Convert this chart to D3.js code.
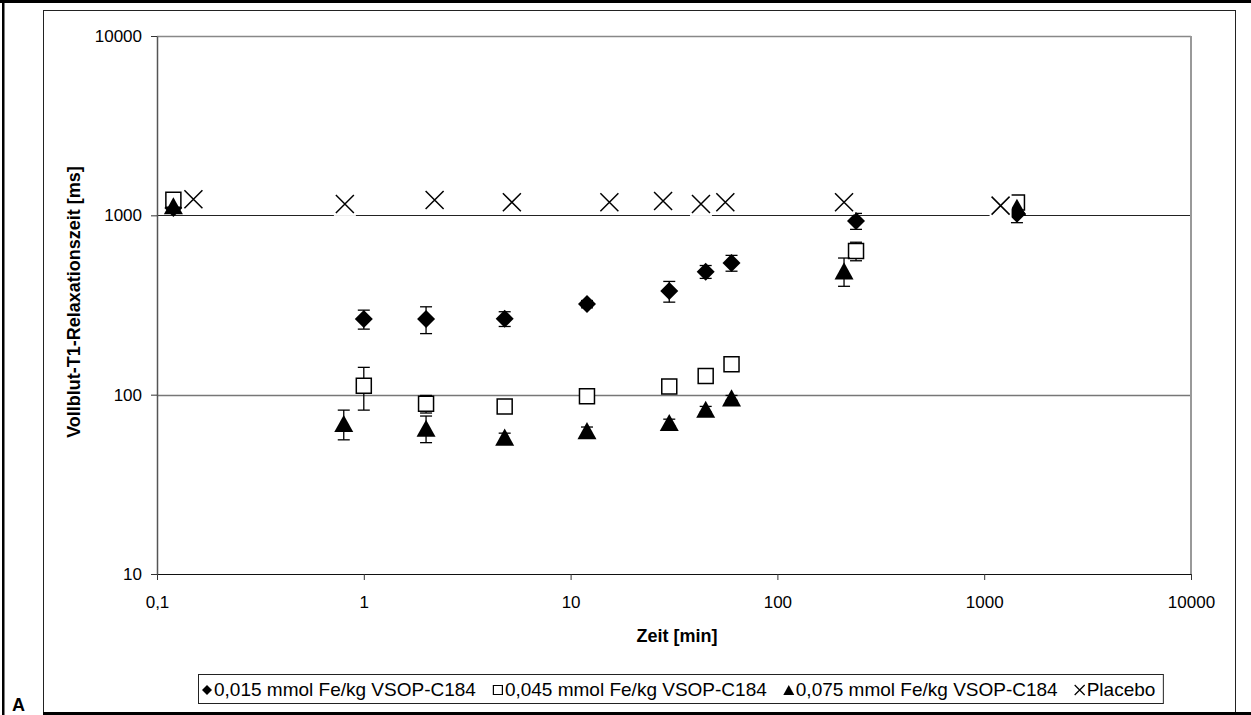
<!DOCTYPE html>
<html>
<head>
<meta charset="utf-8">
<script src="https://cdn.jsdelivr.net/npm/d3@7"></script>
<style>
  body { margin: 0; background: #fff; }
  svg { display: block; font-family: Arial, "Liberation Sans", sans-serif; }
</style>
</head>
<body>
<div id="wrapper"></div>
<script>
// --- data ---
const xTicks = [0.1, 1, 10, 100, 1000, 10000]
const yTicks = [10, 100, 1000, 10000]

const lowDoseTime = [0.12, 1, 2, 4.8, 12, 30, 45, 60, 240, 1440]
const lowDoseT1 = [1100, 264, 264, 265, 320, 378, 485, 543, 930, 1020]
const lowDoseErr = [70, 32, 45, 25, 15, 50, 40, 55, 95, 110]

const midDoseTime = [0.12, 1, 2, 4.8, 12, 30, 45, 60, 240, 1440]
const midDoseT1 = [1220, 112, 89, 86, 98, 111, 127, 148, 633, 1180]
const midDoseErr = [0, 30, 10, 0, 0, 0, 0, 5, 75, 0]

const highDoseTime = [0.12, 0.8, 2, 4.8, 12, 30, 45, 60, 210, 1440]
const highDoseT1 = [1130, 69, 65, 58, 63, 70, 83, 96, 490, 1110]
const highDoseErr = [0, 13, 11, 3, 3, 3, 3, 3, 88, 0]

const placeboTime = [0.15, 0.81, 2.2, 5.2, 15.4, 28, 42.7, 56, 210, 1200]
const placeboT1 = [1230, 1158, 1219, 1183, 1183, 1203, 1158, 1183, 1183, 1133]

const seriesNames = [
    "0,015 mmol Fe/kg VSOP-C184",
    "0,045 mmol Fe/kg VSOP-C184",
    "0,075 mmol Fe/kg VSOP-C184",
    "Placebo"
]

function drawChart() {
    const width = 1251
    const height = 715

    let dimensions = {
        width: width,
        height: height,
        margin: { top: 36, right: 60, bottom: 141, left: 157 }
    }
    dimensions.boundedWidth = dimensions.width - dimensions.margin.left - dimensions.margin.right
    dimensions.boundedHeight = dimensions.height - dimensions.margin.top - dimensions.margin.bottom

    const wrapper = d3.select("#wrapper")
        .append("svg")
        .attr("width", dimensions.width)
        .attr("height", dimensions.height)

    // page frame + chart frame
    wrapper.append("rect").attr("x", 0).attr("y", 0).attr("width", width).attr("height", 3).attr("fill", "#000")
    wrapper.append("rect").attr("x", 2).attr("y", 0).attr("width", 2.5).attr("height", height).attr("fill", "#000")
    wrapper.append("rect")
        .attr("x", 43.5).attr("y", 10.5)
        .attr("width", 1192).attr("height", 703)
        .attr("fill", "none").attr("stroke", "#222").attr("stroke-width", 1)
    wrapper.append("rect").attr("x", 43).attr("y", 712).attr("width", width - 43).attr("height", 3).attr("fill", "#000")

    wrapper.append("text")
        .attr("x", 12).attr("y", 711)
        .attr("font-weight", "bold")
        .attr("font-size", 18)
        .text("A")

    const bounds = wrapper.append("g")
        .attr("transform", `translate(${dimensions.margin.left},${dimensions.margin.top})`)

    const xScale = d3.scaleLog()
        .domain([0.1, 10000])
        .range([0, dimensions.boundedWidth])

    const yScale = d3.scaleLog()
        .domain([10, 10000])
        .range([dimensions.boundedHeight, 0])

    // gridlines at 100 / 1000 / 10000
    const gridStyle = { 100: ["#777", 1.5], 1000: ["#222", 1], 10000: ["#888", 1.5] }
    bounds.selectAll(".grid")
        .data(yTicks.filter(d => d > 10))
        .enter().append("line")
        .attr("x1", 0).attr("x2", dimensions.boundedWidth)
        .attr("y1", d => Math.round(yScale(d)) + 0.5)
        .attr("y2", d => Math.round(yScale(d)) + 0.5)
        .attr("stroke", d => gridStyle[d][0])
        .attr("stroke-width", d => gridStyle[d][1])

    bounds.append("line")
        .attr("x1", dimensions.boundedWidth).attr("x2", dimensions.boundedWidth)
        .attr("y1", 0).attr("y2", dimensions.boundedHeight)
        .attr("stroke", "#999").attr("stroke-width", 2)

    const fmt = d => String(d).replace(".", ",")

    const xAxis = bounds.append("g")
        .attr("transform", `translate(0,${dimensions.boundedHeight})`)
        .call(d3.axisBottom(xScale).tickValues(xTicks).tickFormat(fmt).tickSize(6).tickSizeOuter(0).tickPadding(16))
    xAxis.select(".domain").attr("stroke", "#111")
    xAxis.selectAll(".tick line").attr("stroke", "#333")
    xAxis.selectAll("text").attr("font-size", 17).attr("fill", "#000").attr("font-family", "Arial, 'Liberation Sans', sans-serif")

    const yAxis = bounds.append("g")
        .call(d3.axisLeft(yScale).tickValues(yTicks).tickFormat(fmt).tickSize(6).tickSizeOuter(0).tickPadding(9))
    yAxis.select(".domain").attr("stroke", "#555").attr("stroke-width", 1.5)
    yAxis.selectAll(".tick line").attr("stroke", "#333")
    yAxis.selectAll("text").attr("font-size", 17).attr("fill", "#000").attr("font-family", "Arial, 'Liberation Sans', sans-serif")

    wrapper.append("text")
        .attr("x", 677).attr("y", 642)
        .attr("text-anchor", "middle")
        .attr("font-weight", "bold").attr("font-size", 18)
        .text("Zeit [min]")

    wrapper.append("text")
        .attr("transform", "translate(80,302) rotate(-90)")
        .attr("text-anchor", "middle")
        .attr("font-weight", "bold").attr("font-size", 18)
        .text("Vollblut-T1-Relaxationszeit [ms]")

    // marker shapes
    const diamond = { draw(ctx, size) { const h = Math.sqrt(size) / 2; ctx.moveTo(0, -h); ctx.lineTo(h, 0); ctx.lineTo(0, h); ctx.lineTo(-h, 0); ctx.closePath() } }
    const triangle = { draw(ctx, size) { const w = Math.sqrt(size) / 2; const h = w * 0.9; ctx.moveTo(0, -h); ctx.lineTo(w, h); ctx.lineTo(-w, h); ctx.closePath() } }
    const cross = { draw(ctx, size) { const h = Math.sqrt(size) / 2; ctx.moveTo(-h, -h); ctx.lineTo(h, h); ctx.moveTo(h, -h); ctx.lineTo(-h, h) } }

    const series = [
        { time: lowDoseTime, t1: lowDoseT1, err: lowDoseErr, type: diamond, size: 18 * 18, fill: "#000", stroke: "none" },
        { time: midDoseTime, t1: midDoseT1, err: midDoseErr, type: d3.symbolSquare, size: 15 * 15, fill: "#fff", stroke: "#000" },
        { time: highDoseTime, t1: highDoseT1, err: highDoseErr, type: triangle, size: 19 * 19, fill: "#000", stroke: "none" },
        { time: placeboTime, t1: placeboT1, err: null, type: cross, size: 18 * 18, fill: "none", stroke: "#000" }
    ]

    series.forEach(s => {
        const pts = s.time.map((t, i) => ({ x: t, y: s.t1[i], e: s.err ? s.err[i] : 0 }))
        const g = bounds.append("g")

        const bars = g.selectAll(".err").data(pts.filter(d => d.e > 0)).enter().append("g")
        bars.append("line")
            .attr("x1", d => xScale(d.x)).attr("x2", d => xScale(d.x))
            .attr("y1", d => yScale(d.y - d.e)).attr("y2", d => yScale(d.y + d.e))
            .attr("stroke", "#000").attr("stroke-width", 1.3)
        bars.selectAll(".cap").data(d => [d.y - d.e, d.y + d.e].map(v => ({ x: d.x, v: v }))).enter().append("line")
            .attr("x1", d => xScale(d.x) - 6).attr("x2", d => xScale(d.x) + 6)
            .attr("y1", d => yScale(d.v)).attr("y2", d => yScale(d.v))
            .attr("stroke", "#000").attr("stroke-width", 1.3)

        if (s.type === cross) {
            // Excel draws the x marker on a white box
            g.selectAll(".bg").data(pts).enter().append("rect")
                .attr("x", d => xScale(d.x) - 11).attr("y", d => yScale(d.y) - 12)
                .attr("width", 22).attr("height", 24)
                .attr("fill", "#fff")
        }

        g.selectAll(".mark").data(pts).enter().append("path")
            .attr("transform", d => `translate(${xScale(d.x)},${yScale(d.y)})`)
            .attr("d", d3.symbol().type(s.type).size(s.size))
            .attr("fill", s.fill)
            .attr("stroke", s.stroke)
            .attr("stroke-width", 1.5)
    })

    // legend
    const legend = wrapper.append("g")
    const legendBox = legend.append("rect")
        .attr("y", 674.5).attr("height", 29)
        .attr("fill", "#fff").attr("stroke", "#222").attr("stroke-width", 1)

    const legendSizes = [10 * 10, 9 * 9, 11 * 11, 10 * 10]
    let cursor = 202
    seriesNames.forEach((name, i) => {
        const s = series[i]
        legend.append("path")
            .attr("transform", `translate(${cursor + 5},${690})`)
            .attr("d", d3.symbol().type(s.type).size(legendSizes[i]))
            .attr("fill", s.fill)
            .attr("stroke", s.stroke)
            .attr("stroke-width", 1.2)
        const t = legend.append("text")
            .attr("x", cursor + 12).attr("y", 696)
            .attr("font-size", 19)
            .text(name)
        cursor = cursor + 12 + t.node().getComputedTextLength() + 17
    })
    legendBox.attr("x", 198.5).attr("width", cursor - 17 + 8 - 198.5)
}

drawChart()
</script>
</body>
</html>
